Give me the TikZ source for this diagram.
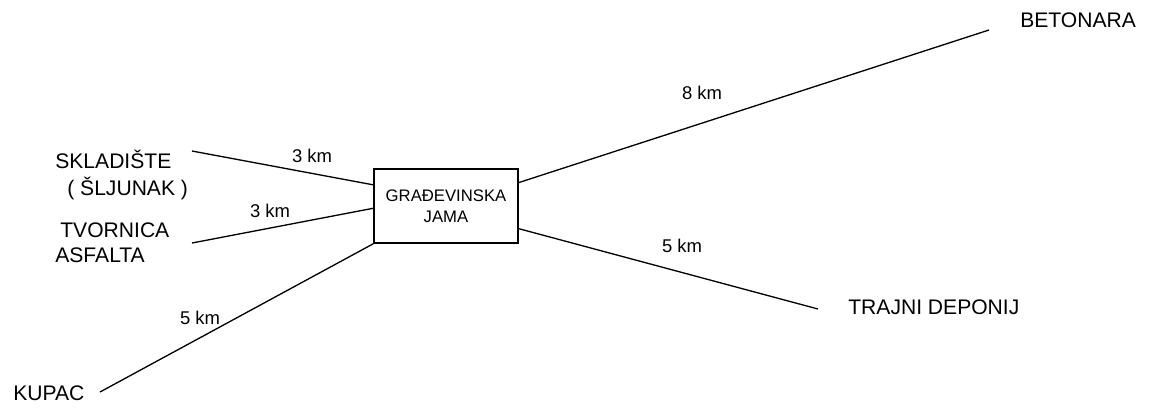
\documentclass[tikz,border=0pt]{standalone}
\usepackage{fontspec}
\setmainfont{Liberation Sans}
\usetikzlibrary{calc}

\begin{document}
\begin{tikzpicture}[x=0.02cm, y=-0.02cm,
        place/.style={inner sep=0pt, anchor=base west, font=\fontsize{12}{14}\selectfont},
        dist/.style={inner sep=0pt, anchor=base, font=\fontsize{10.5}{12}\selectfont},
        road/.style={line width=0.75pt}]
        \useasboundingbox (0,0) rectangle (1162,410);

        \node[draw, line width=0.9pt, minimum width=2.88cm, minimum height=1.48cm, inner sep=0pt, align=center,
              font=\fontsize{9.5}{12}\selectfont] (jama) at (446,206) {GRAĐEVINSKA\\JAMA};

        \node[place] (skladiste) at (55,168.5) {SKLADIŠTE};
        \node[place] (sljunak) at (67,195.5) {( ŠLJUNAK )};
        \node[place] (tvornica) at (60,237.5) {TVORNICA};
        \node[place] (asfalta) at (55,262.5) {ASFALTA};
        \node[place] (kupac) at (13,400.5) {KUPAC};
        \node[place] (betonara) at (1020,27.5) {BETONARA};
        \node[place] (deponij) at (848,314.5) {TRAJNI DEPONIJ};

        \coordinate (skladisteEnd) at (192,151);
        \coordinate (tvornicaEnd) at (192,243);
        \coordinate (kupacEnd) at (100,392);
        \coordinate (betonaraEnd) at (989,30);
        \coordinate (deponijEnd) at (818,309);

        \draw[road] (skladisteEnd) -- ($(jama.north west)!0.22!(jama.south west)$);
        \draw[road] (tvornicaEnd) -- ($(jama.north west)!0.53!(jama.south west)$);
        \draw[road] (kupacEnd) -- (jama.south west);
        \draw[road] ($(jama.north east)!0.19!(jama.south east)$) -- (betonaraEnd);
        \draw[road] ($(jama.north east)!0.8!(jama.south east)$) -- (deponijEnd);

        \node[dist] (dSkladiste) at (312,162) {3 km};
        \node[dist] (dTvornica) at (270,217) {3 km};
        \node[dist] (dKupac) at (200,324) {5 km};
        \node[dist] (dBetonara) at (702,99) {8 km};
        \node[dist] (dDeponij) at (682,252) {5 km};
\end{tikzpicture}
\end{document}
